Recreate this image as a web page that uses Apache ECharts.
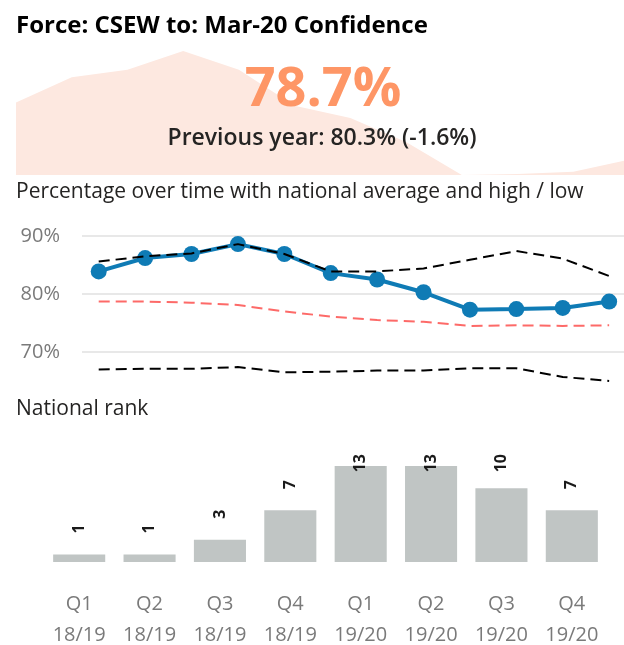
<!DOCTYPE html>
<html>
<head>
<meta charset="utf-8">
<script src="https://cdn.jsdelivr.net/npm/echarts@6/dist/echarts.min.js"></script>
<style>
  html, body { margin: 0; padding: 0; background: #fff; }
  #chart { width: 624px; height: 645px; }
</style>
</head>
<body>
<div id="chart"></div>
<script>
// quarters shown in the line chart (to Mar-20)
const lineQuarters = ['Jun-17', 'Sep-17', 'Dec-17', 'Mar-18', 'Jun-18', 'Sep-18',
  'Dec-18', 'Mar-19', 'Jun-19', 'Sep-19', 'Dec-19', 'Mar-20'];
const forceValues = [83.9, 86.2, 86.9, 88.6, 86.9, 83.6, 82.5, 80.3, 77.3, 77.4, 77.6, 78.7];
const highValues = [85.6, 86.5, 87.0, 88.6, 86.9, 83.9, 83.9, 84.4, 85.9, 87.4, 86.1, 83.1];
const avgValues = [78.7, 78.7, 78.5, 78.1, 77.0, 76.1, 75.5, 75.2, 74.5, 74.6, 74.5, 74.6];
const lowValues = [67.0, 67.1, 67.1, 67.4, 66.5, 66.6, 66.8, 66.8, 67.2, 67.2, 65.7, 65.0];

const rankQuarters = ['Q1\n18/19', 'Q2\n18/19', 'Q3\n18/19', 'Q4\n18/19',
  'Q1\n19/20', 'Q2\n19/20', 'Q3\n19/20', 'Q4\n19/20'];
const rankValues = [1, 1, 3, 7, 13, 13, 10, 7];

const lineTicks = [60, 70, 80, 90];

const font = '"Segoe UI", "Open Sans", sans-serif';
const latest = forceValues[forceValues.length - 1];
const prevYear = forceValues[forceValues.length - 5];
const diff = (latest - prevYear).toFixed(1);

const rankTop = 466;
const labelTop = 454;   // rank labels are kept below this line
const labelFont = 'bold 16px ' + font;

let chart = echarts.init(document.getElementById('chart'), null, { renderer: 'canvas' });

let option = {
  backgroundColor: '#fff',
  animation: false,
  textStyle: { fontFamily: font },
  graphic: [
    {
      type: 'text', x: 16, y: 26, z: 10,
      style: {
        text: 'Force: CSEW to: Mar-20 Confidence',
        font: 'bold 24px ' + font, fill: '#000', verticalAlign: 'middle'
      }
    },
    {
      type: 'text', x: 323, y: 91, z: 10,
      style: {
        text: latest.toFixed(1) + '%',
        font: 'bold 54px ' + font, fill: '#fe9666', align: 'center', verticalAlign: 'middle'
      }
    },
    {
      type: 'text', x: 322, y: 138, z: 10,
      style: {
        text: 'Previous year: ' + prevYear.toFixed(1) + '% (' + diff + '%)',
        font: '600 23px ' + font, fill: '#252423', align: 'center', verticalAlign: 'middle'
      }
    },
    {
      type: 'text', x: 16, y: 192, z: 10,
      style: {
        text: 'Percentage over time with national average and high / low',
        font: '21px ' + font, fill: '#252423', verticalAlign: 'middle'
      }
    },
    {
      type: 'text', x: 16, y: 409, z: 10,
      style: {
        text: 'National rank',
        font: '21px ' + font, fill: '#252423', verticalAlign: 'middle'
      }
    }
  ],
  grid: [
    { left: 16, right: -5, top: 51, bottom: 470, outerBoundsMode: 'none' },
    { left: 82, right: 0, top: 236, bottom: 235, outerBoundsMode: 'none' },
    { left: 44, right: 17, top: rankTop, bottom: 83, outerBoundsMode: 'none' }
  ],
  xAxis: [
    { gridIndex: 0, type: 'category', data: lineQuarters, boundaryGap: false, show: false },
    { gridIndex: 1, type: 'value', min: -0.36, max: 11.32, show: false },
    {
      gridIndex: 2, type: 'category', data: rankQuarters,
      axisLine: { show: false }, axisTick: { show: false },
      axisLabel: { color: '#7a7a7a', fontSize: 20, lineHeight: 31, margin: 27 }
    }
  ],
  yAxis: [
    { gridIndex: 0, type: 'value', min: 'dataMin', max: 'dataMax', show: false },
    {
      gridIndex: 1, type: 'value', min: lineTicks[0], max: lineTicks[lineTicks.length - 1], interval: 10,
      axisLine: { show: false }, axisTick: { show: false },
      axisLabel: { color: '#7a7a7a', fontSize: 20, margin: 22, showMinLabel: false, formatter: '{value}%' },
      splitLine: { lineStyle: { color: ['transparent', '#e8e8e8', '#e8e8e8', '#e8e8e8'], width: 2 } }
    },
    { gridIndex: 2, type: 'value', min: 0, max: Math.max(...rankValues), show: false }
  ],
  series: [
    {
      name: 'background', type: 'line', xAxisIndex: 0, yAxisIndex: 0,
      data: forceValues, symbol: 'none', silent: true,
      lineStyle: { width: 0 }, areaStyle: { color: '#fde8e0', opacity: 1 }, z: 0
    },
    {
      name: 'Force', type: 'line', xAxisIndex: 1, yAxisIndex: 1,
      data: forceValues.map((v, i) => [i, v]),
      symbol: 'circle', symbolSize: 16,
      lineStyle: { color: '#0f7bb5', width: 4 }, itemStyle: { color: '#0f7bb5' }, z: 3
    },
    {
      name: 'High', type: 'line', xAxisIndex: 1, yAxisIndex: 1,
      data: highValues.map((v, i) => [i, v]), symbol: 'none',
      lineStyle: { color: '#000', width: 2, type: [11, 6] }, z: 4
    },
    {
      name: 'National average', type: 'line', xAxisIndex: 1, yAxisIndex: 1,
      data: avgValues.map((v, i) => [i, v]), symbol: 'none',
      lineStyle: { color: '#fd6a68', width: 2, type: [11, 6] }, z: 4
    },
    {
      name: 'Low', type: 'line', xAxisIndex: 1, yAxisIndex: 1,
      data: lowValues.map((v, i) => [i, v]), symbol: 'none',
      lineStyle: { color: '#000', width: 2, type: [11, 6] }, z: 4
    },
    {
      id: 'rank', name: 'National rank', type: 'bar', xAxisIndex: 2, yAxisIndex: 2,
      data: rankValues, barCategoryGap: '26%',
      itemStyle: { color: '#c0c5c4' },
      label: {
        show: true, position: 'top', distance: 21, rotate: 90,
        align: 'left', verticalAlign: 'middle',
        fontWeight: 'bold', fontSize: 16, color: '#1a1a1a'
      }
    }
  ]
};

chart.setOption(option);

// keep tall bars' labels from running above the label line (pulled into the bar instead)
const ctx = document.createElement('canvas').getContext('2d');
ctx.font = labelFont;
const rankData = rankValues.map((v, i) => {
  const top = chart.convertToPixel({ gridIndex: 2 }, [i, v])[1];
  const len = ctx.measureText(String(v)).width;
  return { value: v, label: { distance: Math.min(21, top - labelTop - len) } };
});
chart.setOption({ series: [{ id: 'rank', data: rankData }] });
</script>
</body>
</html>
